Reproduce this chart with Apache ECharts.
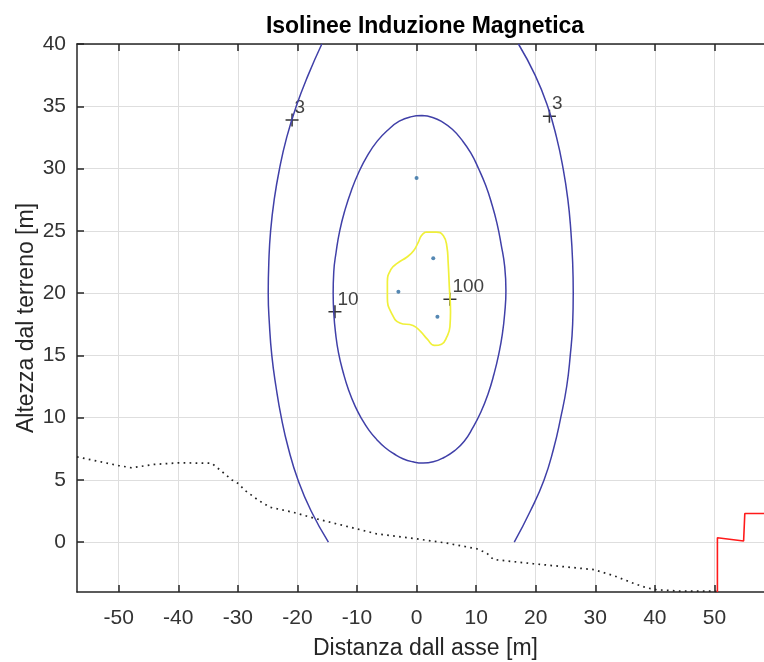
<!DOCTYPE html>
<html>
<head>
<meta charset="utf-8">
<script src="https://cdn.jsdelivr.net/npm/echarts@6/dist/echarts.min.js"></script>
<style>html,body{margin:0;padding:0;background:#fff}#c{width:764px;height:662px}</style>
</head>
<body>
<div id="c"></div>
<script>
// ---- tick labels ----
const xTicks = [-50, -40, -30, -20, -10, 0, 10, 20, 30, 40, 50];
const yTicks = [0, 5, 10, 15, 20, 25, 30, 35, 40];

// ---- terrain profile (dotted) ----
const terrainX = [-57, -50, -47.8, -44.2, -40, -34.4, -33, -31, -29.9, -28.8, -26.5, -24.6, -20.7, -17.0, -12.3, -6.7, 0, 5.1, 10.1, 11.8, 12.9, 19.6, 29.7, 33.0, 36.4, 38.6, 40.3, 44.2, 48.7, 50.5];
const terrainY = [6.85, 6.15, 5.97, 6.24, 6.37, 6.34, 5.8, 5.0, 4.7, 4.15, 3.35, 2.8, 2.4, 1.9, 1.34, 0.67, 0.27, -0.08, -0.53, -0.88, -1.39, -1.73, -2.2, -2.67, -3.3, -3.66, -3.82, -3.93, -3.93, -3.95];

// ---- red building outline ----
const redX = [50.5, 50.5, 54.9, 55.1, 60];
const redY = [-4, 0.35, 0.1, 2.3, 2.3];

// ---- isoline 3 (two branches clipped by the plot) ----
const iso3Y = [0, 2.5, 5, 7.5, 10, 12.5, 15, 17.5, 20, 22.5, 25, 27.5, 30, 32.5, 35, 37.5, 40];
const iso3LeftX = [-14.8, -17.7, -19.9, -21.5, -22.7, -23.6, -24.3, -24.7, -24.9, -24.8, -24.5, -23.9, -23.0, -21.8, -20.2, -18.2, -15.9];
const iso3RightX = [16.4, 19.1, 21.4, 23.0, 24.2, 25.2, 25.8, 26.2, 26.3, 26.2, 25.9, 25.4, 24.6, 23.5, 22.0, 19.9, 17.1];

// ---- isoline 10 (closed) ----
const iso10X = [0.9, 2.7, 4.3, 6.0, 7.6, 9.1, 10.4, 11.6, 12.6, 13.5, 14.2, 14.8, 15.0, 14.8, 14.4, 13.8, 13.0, 12.0, 10.8, 9.4, 8.0, 6.4, 4.6, 2.8, 1.1, -0.6, -2.3, -3.8, -5.3, -6.7, -8.0, -9.2, -10.3, -11.4, -12.3, -13.1, -13.6, -13.9, -14.0, -13.9, -13.5, -12.9, -12.0, -10.9, -9.7, -8.3, -6.6, -4.8, -2.9, -1.0, 0.9];
const iso10Y = [34.25, 34.1, 33.75, 33.15, 32.3, 31.25, 30.0, 28.65, 27.2, 25.6, 23.9, 22.1, 20.2, 18.4, 16.7, 15.1, 13.5, 11.9, 10.45, 9.15, 8.1, 7.35, 6.8, 6.45, 6.35, 6.45, 6.7, 7.1, 7.6, 8.25, 9.0, 9.9, 10.9, 12.2, 13.6, 15.2, 16.8, 18.4, 20.0, 21.7, 23.3, 25.0, 26.7, 28.3, 29.7, 31.0, 32.2, 33.1, 33.8, 34.15, 34.25];

// ---- isoline 100 (closed, yellow) ----
const iso100X = [1.5, 3.3, 4.5, 5.1, 5.3, 5.5, 5.7, 5.6, 5.1, 4.2, 3.0, 1.8, 0.7, -0.6, -2.8, -4.1, -4.9, -4.9, -4.3, -3.2, -1.6, -0.5, 0.3, 0.8, 1.5];
const iso100Y = [24.9, 24.9, 24.6, 23.7, 22.5, 20.5, 18.5, 17.3, 16.5, 15.9, 15.8, 16.3, 16.9, 17.4, 17.6, 18.3, 19.6, 20.9, 21.9, 22.4, 22.9, 23.4, 24.1, 24.6, 24.9];

// ---- conductors ----
const condX = [0, 2.8, -3.05, 3.5];
const condY = [29.25, 22.8, 20.1, 18.1];

// ---- contour labels ----
const lblX = [-20.9, 22.3, -13.7, 5.6];
const lblY = [33.9, 34.2, 18.5, 19.5];
const lblText = ['3', '3', '10', '100'];

function zip(xs, ys) { return xs.map((x, i) => [x, ys[i]]); }

const FONT = 'Liberation Sans, Arial, Helvetica, sans-serif';
const AX = '#262626';
const blue = '#4040a8';

const chart = echarts.init(document.getElementById('c'), null, { renderer: 'canvas' });
chart.setOption({
  animation: false,
  backgroundColor: '#ffffff',
  title: {
    text: 'Isolinee Induzione Magnetica',
    left: 420, top: 10, textAlign: 'center',
    textStyle: { fontFamily: FONT, fontSize: 23, fontWeight: 'bold', color: '#000' }
  },
  grid: { left: 77, top: 44, right: -10, bottom: 70, containLabel: false, outerBoundsMode: 'none' },
  xAxis: [{
    type: 'value', min: -57, max: 60, position: 'bottom',
    axisLine: { show: true, onZero: false, lineStyle: { color: AX, width: 1.5 } },
    axisTick: { show: true, inside: true, length: 7, customValues: xTicks, lineStyle: { color: AX, width: 1.5 } },
    axisLabel: { customValues: xTicks, fontFamily: FONT, fontSize: 21, color: '#333', margin: 16 },
    splitLine: { show: true, lineStyle: { color: '#dedede', width: 1 } },
    name: 'Distanza dall asse [m]', nameLocation: 'middle', nameGap: 45,
    nameTextStyle: { fontFamily: FONT, fontSize: 23, color: AX }
  }, {
    type: 'value', min: -57, max: 60, position: 'top',
    axisLine: { show: true, onZero: false, lineStyle: { color: AX, width: 1.5 } },
    axisTick: { show: true, inside: true, length: 7, customValues: xTicks, lineStyle: { color: AX, width: 1.5 } },
    axisLabel: { show: false },
    splitLine: { show: false }
  }],
  yAxis: {
    type: 'value', min: -4, max: 40,
    axisLine: { show: true, onZero: false, lineStyle: { color: AX, width: 1.5 } },
    axisTick: { show: true, inside: true, length: 7, customValues: yTicks, lineStyle: { color: AX, width: 1.5 } },
    axisLabel: { customValues: yTicks, fontFamily: FONT, fontSize: 21, color: '#333', margin: 11 },
    splitLine: { show: true, lineStyle: { color: '#dedede', width: 1 } },
    name: 'Altezza dal terreno [m]', nameLocation: 'middle', nameGap: 39, nameRotate: 90,
    nameMoveOverlap: false,
    nameTextStyle: { fontFamily: FONT, fontSize: 23, color: AX }
  },
  series: [
    { type: 'line', data: zip(terrainX, terrainY), symbol: 'none', silent: true,
      lineStyle: { color: '#222', width: 1.7, type: [1.7, 4.3] } },
    { type: 'line', data: zip(redX, redY), symbol: 'none', silent: true,
      lineStyle: { color: '#ff1a1a', width: 1.6 } },
    { type: 'line', data: zip(iso3LeftX, iso3Y), symbol: 'none', smooth: 0.5, silent: true,
      lineStyle: { color: blue, width: 1.5 } },
    { type: 'line', data: zip(iso3RightX, iso3Y), symbol: 'none', smooth: 0.5, silent: true,
      lineStyle: { color: blue, width: 1.5 } },
    { type: 'line', data: zip(iso10X, iso10Y), symbol: 'none', smooth: 0.5, silent: true,
      lineStyle: { color: blue, width: 1.5 } },
    { type: 'line', data: zip(iso100X, iso100Y), symbol: 'none', smooth: 0.5, silent: true,
      lineStyle: { color: '#f0f03a', width: 1.7 } },
    { type: 'scatter', data: zip(condX, condY), symbol: 'circle', symbolSize: 4, silent: true,
      itemStyle: { color: '#2a6aa0' } },
    { type: 'scatter', silent: true,
      data: lblX.map((x, i) => ({ value: [x, lblY[i]], name: lblText[i] })),
      symbol: 'path://M4.4,0 H5.6 V4.4 H10 V5.6 H5.6 V10 H4.4 V5.6 H0 V4.4 H4.4 Z',
      symbolSize: 13,
      itemStyle: { color: '#000' },
      label: { show: true, position: 'right', distance: 0, offset: [-4, -12.5],
        formatter: p => p.name, fontFamily: FONT, fontSize: 19, color: '#111' } }
  ]
});
</script>
</body>
</html>
